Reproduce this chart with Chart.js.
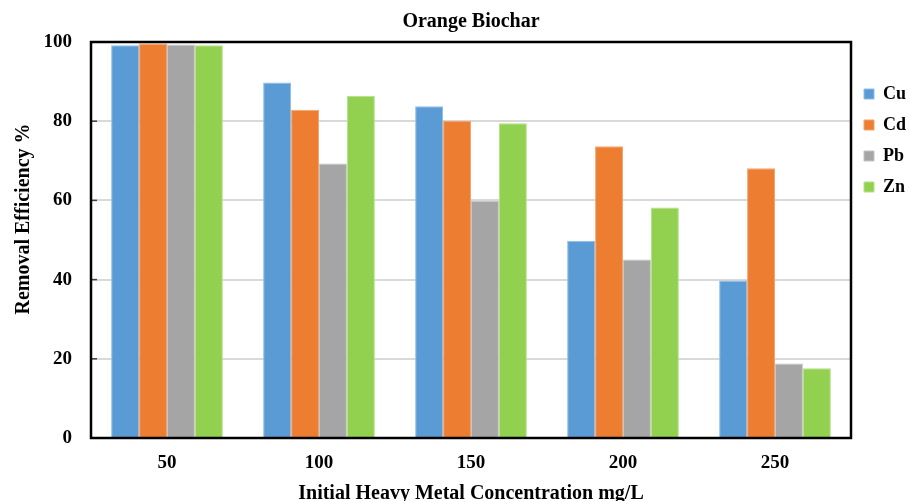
<!DOCTYPE html>
<html><head><meta charset="utf-8">
<script src="https://cdn.jsdelivr.net/npm/chart.js@4.4.1/dist/chart.umd.min.js"></script>
<style>html,body{margin:0;padding:0;background:#fff;} canvas{display:block;}</style>
</head><body>
<canvas id="c" width="909" height="501"></canvas>
<script>
const categories = ['50', '100', '150', '200', '250'];
const seriesNames = ['Cu', 'Cd', 'Pb', 'Zn'];
const cuValues = [99.2, 89.8, 83.8, 49.8, 39.8];
const cdValues = [99.6, 82.9, 80.1, 73.7, 68.1];
const pbValues = [99.4, 69.3, 59.9, 45.1, 18.8];
const znValues = [99.2, 86.4, 79.5, 58.2, 17.6];
const yTickValues = [0, 20, 40, 60, 80, 100];
const chartTitle = 'Orange Biochar';
const xTitle = 'Initial Heavy Metal Concentration mg/L';
const yTitle = 'Removal Efficiency %';

const colors = ['#5B9BD5', '#ED7D31', '#A5A5A5', '#92D050'];
const edgeColors = ['#8FBCE6', '#F3A56F', '#C4C4C4', '#B5E08A'];
const FONT = "'Liberation Serif','Times New Roman',serif";

const framePlugin = {
  id: 'frame',
  afterDraw(chart) {
    const {ctx, chartArea: a} = chart;
    const y = chart.scales.y;
    ctx.save();
    ctx.strokeStyle = '#404040';
    ctx.lineWidth = 1.5;
    yTickValues.forEach(v => {
      const py = y.getPixelForValue(v);
      ctx.beginPath();
      ctx.moveTo(a.left, py);
      ctx.lineTo(a.left + 6, py);
      ctx.stroke();
    });
    ctx.strokeStyle = '#000';
    ctx.lineWidth = 2.5;
    ctx.strokeRect(a.left, a.top, a.right - a.left, a.bottom - a.top);
    ctx.fillStyle = '#000';
    ctx.font = 'bold 20px ' + FONT;
    ctx.textAlign = 'center';
    ctx.textBaseline = 'alphabetic';
    ctx.translate(29, (a.top + a.bottom) / 2 - 21);
    ctx.rotate(-Math.PI / 2);
    ctx.fillText(yTitle, 0, 0);
    ctx.restore();
  }
};

const allValues = [cuValues, cdValues, pbValues, znValues];
const datasets = seriesNames.map((name, i) => ({
  label: name,
  data: allValues[i],
  backgroundColor: colors[i],
  borderColor: edgeColors[i],
  borderWidth: 1,
  categoryPercentage: 0.735,
  barPercentage: 1.0
}));

new Chart(document.getElementById('c'), {
  type: 'bar',
  data: {labels: categories, datasets},
  options: {
    responsive: false,
    animation: false,
    devicePixelRatio: 1,
    layout: {padding: {left: 0, right: 0, top: 0, bottom: 0}},
    plugins: {
      title: {
        display: true,
        text: chartTitle,
        fullSize: false,
        color: '#000',
        font: {family: FONT, size: 20, weight: 'bold', lineHeight: 1.2},
        padding: {top: 9.4, bottom: 8.6}
      },
      legend: {
        display: true,
        position: 'right',
        align: 'start',
        maxWidth: 58,
        title: {display: true, text: '', padding: {top: 60, bottom: 0}, font: {size: 10, lineHeight: 1.2}},
        labels: {
          boxWidth: 10,
          boxHeight: 10,
          padding: 13,
          color: '#000',
          font: {family: FONT, size: 18, weight: 'bold'}
        }
      },
      tooltip: {enabled: false}
    },
    scales: {
      x: {
        offset: true,
        grid: {display: false, drawTicks: false},
        border: {display: false},
        ticks: {color: '#000', padding: 14, font: {family: FONT, size: 19, weight: 'bold'}},
        title: {
          display: true,
          text: xTitle,
          color: '#000',
          font: {family: FONT, size: 20, weight: 'bold', lineHeight: 0.7},
          padding: 0
        },
        afterFit(scale) { scale.height = 63; }
      },
      y: {
        min: 0,
        max: 100,
        grid: {color: '#d9d9d9', lineWidth: 2, drawTicks: false},
        border: {display: false},
        ticks: {color: '#000', padding: 19, font: {family: FONT, size: 19, weight: 'bold'}},
        afterBuildTicks(scale) { scale.ticks = yTickValues.map(v => ({value: v})); },
        afterFit(scale) { scale.width = 91; }
      }
    }
  },
  plugins: [framePlugin]
});
</script>
</body></html>
